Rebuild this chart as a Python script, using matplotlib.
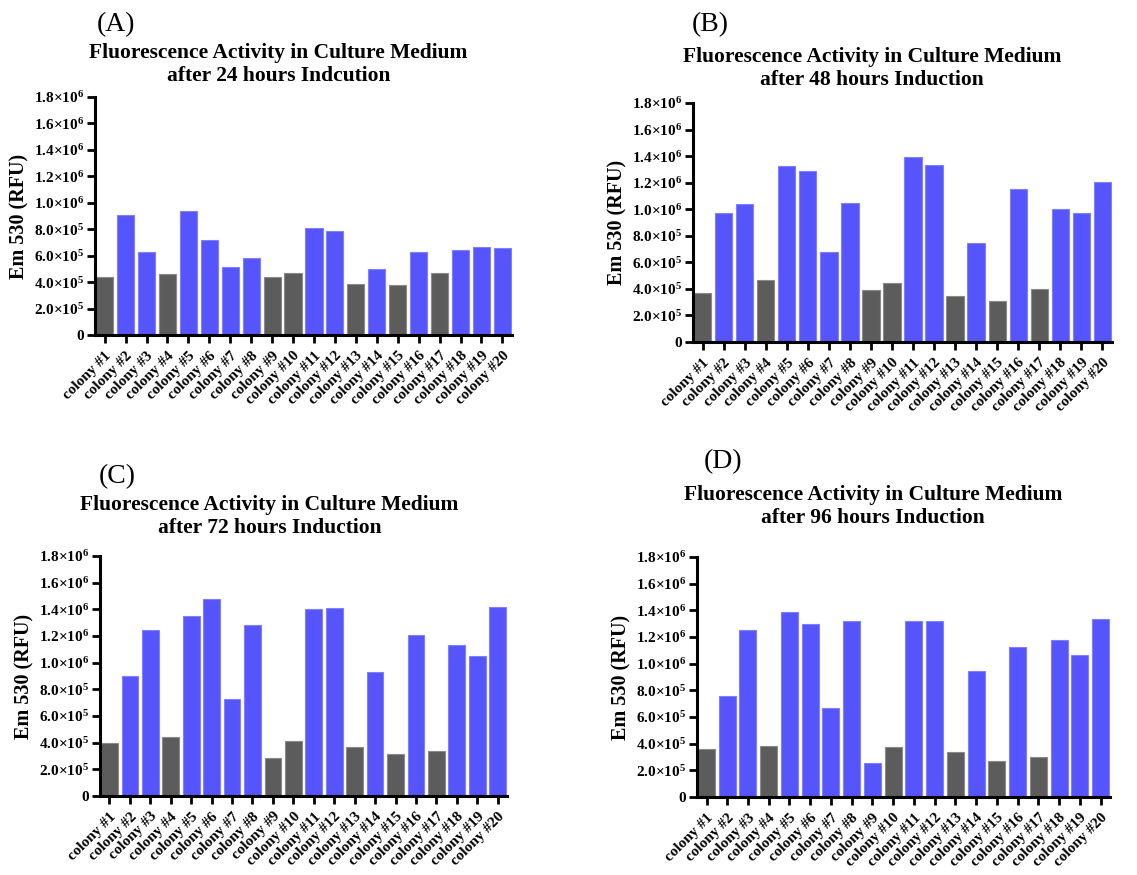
import numpy as np
import matplotlib
matplotlib.use('Agg')
import matplotlib.pyplot as plt

plt.rcParams['font.family'] = ['Liberation Serif', 'DejaVu Serif']
plt.rcParams['font.weight'] = 'bold'
plt.rcParams['mathtext.fontset'] = 'custom'
plt.rcParams['mathtext.rm'] = 'Liberation Serif:bold'
plt.rcParams['mathtext.default'] = 'rm'

colonies = ['colony #%d' % i for i in range(1, 21)]

# 荧光值 (RFU)
rfu_24h = [4.38e5, 9.10e5, 6.30e5, 4.64e5, 9.35e5, 7.16e5, 5.12e5, 5.80e5, 4.38e5, 4.66e5,
           8.13e5, 7.85e5, 3.87e5, 4.97e5, 3.77e5, 6.27e5, 4.66e5, 6.40e5, 6.65e5, 6.60e5]
rfu_48h = [3.72e5, 9.74e5, 1.042e6, 4.69e5, 1.326e6, 1.290e6, 6.78e5, 1.050e6, 3.94e5, 4.42e5,
           1.393e6, 1.333e6, 3.44e5, 7.46e5, 3.06e5, 1.155e6, 4.00e5, 1.004e6, 9.74e5, 1.205e6]
rfu_72h = [3.95e5, 8.98e5, 1.243e6, 4.45e5, 1.348e6, 1.475e6, 7.25e5, 1.285e6, 2.88e5, 4.15e5,
           1.400e6, 1.410e6, 3.70e5, 9.30e5, 3.15e5, 1.210e6, 3.35e5, 1.130e6, 1.050e6, 1.420e6]
rfu_96h = [3.60e5, 7.60e5, 1.250e6, 3.83e5, 1.390e6, 1.300e6, 6.65e5, 1.317e6, 2.53e5, 3.78e5,
           1.320e6, 1.317e6, 3.40e5, 9.43e5, 2.73e5, 1.128e6, 2.98e5, 1.178e6, 1.065e6, 1.335e6]

# 灰色柱 (低表达克隆), 编号从1开始
gray_24h = [1, 4, 9, 10, 13, 15, 17]
gray_48h = [1, 4, 9, 10, 13, 15, 17]
gray_72h = [1, 4, 9, 10, 13, 15, 17]
gray_96h = [1, 4, 10, 13, 15, 17]

yticks = [0, 2e5, 4e5, 6e5, 8e5, 1.0e6, 1.2e6, 1.4e6, 1.6e6, 1.8e6]

def ylab(v):
    if v == 0:
        return '0'
    if v < 1e6:
        return '%.1f×10$^{5}$' % (v / 1e5)
    return '%.1f×10$^{6}$' % (v / 1e6)

BLUE = '#5555fb'
GRAY = '#5c5c5c'

panels = [
    dict(vals=rfu_24h, gray=gray_24h, pos=[0.0836, 0.6171, 0.3667, 0.2720],
         tag='(A)', tagxy=(0.085, 0.986), title='Fluorescence Activity in Culture Medium\nafter 24 hours Indcution',
         txy=(0.245, 0.951)),
    dict(vals=rfu_48h, gray=gray_48h, pos=[0.6095, 0.6091, 0.3685, 0.2732],
         tag='(B)', tagxy=(0.608, 0.986), title='Fluorescence Activity in Culture Medium\nafter 48 hours Induction',
         txy=(0.767, 0.946)),
    dict(vals=rfu_72h, gray=gray_72h, pos=[0.0880, 0.0903, 0.3580, 0.2743],
         tag='(C)', tagxy=(0.087, 0.470), title='Fluorescence Activity in Culture Medium\nafter 72 hours Induction',
         txy=(0.237, 0.434)),
    dict(vals=rfu_96h, gray=gray_96h, pos=[0.6130, 0.0891, 0.3633, 0.2743],
         tag='(D)', tagxy=(0.619, 0.487), title='Fluorescence Activity in Culture Medium\nafter 96 hours Induction',
         txy=(0.768, 0.446)),
]

fig = plt.figure(figsize=(11.37, 8.75), dpi=100)
x = np.arange(len(colonies))
for p in panels:
    ax = fig.add_axes(p['pos'])
    cols = [GRAY if (i + 1) in p['gray'] else BLUE for i in range(len(colonies))]
    edges = ['#8a8a8a' if c == GRAY else '#8080ff' for c in cols]
    ax.bar(x, p['vals'], width=0.82, color=cols, edgecolor=edges, linewidth=0.8)
    ax.set_xlim(-0.46, 19.46)
    ax.set_ylim(0, 1.8e6)
    ax.set_yticks(yticks)
    ax.set_yticklabels([ylab(v) for v in yticks], fontsize=11, fontweight='bold')
    ax.set_xticks(x)
    ax.set_xticklabels(colonies, rotation=45, ha='right', rotation_mode='anchor',
                       fontsize=11, fontweight='bold')
    for s in ['top', 'right']:
        ax.spines[s].set_visible(False)
    for s in ['left', 'bottom']:
        ax.spines[s].set_linewidth(2.2)
    ax.tick_params(axis='both', direction='out', length=6, width=2, pad=2)
    ax.tick_params(axis='x', pad=4)
    ax.set_ylabel('Em 530 (RFU)', fontsize=14.5, fontweight='bold', labelpad=3)
    fig.text(p['tagxy'][0], p['tagxy'][1], p['tag'], fontsize=20, fontweight='normal',
             ha='left', va='top')
    fig.text(p['txy'][0], p['txy'][1], p['title'], fontsize=15.5, fontweight='bold',
             ha='center', va='top', linespacing=1.2)

fig.savefig('out.png', dpi=100)
